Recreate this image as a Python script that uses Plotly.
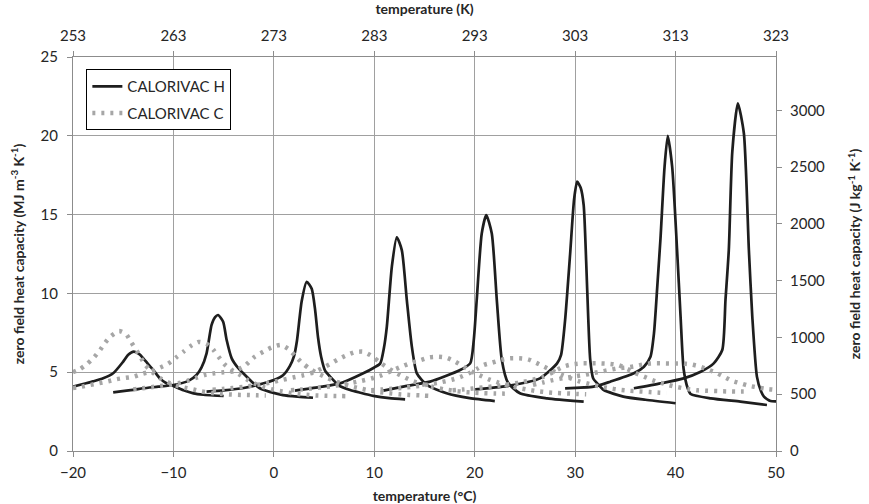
import plotly.graph_objects as go

# ---------------- data: CALORIVAC H (solid) ----------------
h1_x = [-20, -19, -18, -17, -16, -15, -14.5, -13.95, -13.4, -13.0, -12.5, -12.0, -11.35, -10.7, -10.0, -9.0, -8.0, -7.0, -6.0, -5.0]
h1_y = [4.08, 4.25, 4.42, 4.61, 4.93, 5.67, 6.1, 6.3, 6.15, 5.88, 5.5, 5.14, 4.61, 4.3, 4.12, 3.85, 3.66, 3.57, 3.52, 3.49]

h2_x = [-16.0, -14.0, -13.0, -11.5, -10.0, -8.5, -7.7, -7.2, -6.7, -6.2, -5.85, -5.55, -5.05, -4.7, -4.2, -3.6, -3.05, -2.2, -1.4, -0.4, 0.9, 2.4, 3.9]
h2_y = [3.72, 3.88, 3.98, 4.08, 4.19, 4.45, 4.82, 5.3, 6.2, 8.0, 8.5, 8.63, 8.2, 7.04, 5.88, 5.3, 4.93, 4.4, 3.98, 3.75, 3.55, 3.45, 3.38]

h3_x = [-6.7, -5.0, -3.0, -1.0, 0.0, 0.94, 1.6, 2.0, 2.3, 2.77, 3.27, 3.77, 4.1, 4.4, 4.7, 5.1, 5.6, 6.5, 7.6, 8.6, 9.9, 11.5, 13.07]
h3_y = [3.77, 3.85, 4.0, 4.3, 4.5, 4.82, 5.4, 6.0, 7.0, 9.5, 10.74, 10.3, 9.0, 7.2, 6.0, 5.1, 4.72, 4.15, 3.87, 3.7, 3.5, 3.35, 3.28]

h4_x = [2.1, 4.5, 6.6, 8.9, 10.0, 10.6, 10.95, 11.25, 11.75, 12.24, 12.74, 13.24, 13.74, 14.24, 15.24, 17.2, 19.5, 22.0]
h4_y = [3.83, 4.05, 4.29, 4.93, 5.3, 5.56, 6.5, 7.89, 11.7, 13.56, 12.75, 9.58, 6.62, 4.93, 4.19, 3.66, 3.35, 3.17]

h5_x = [10.9, 13.0, 15.56, 18.55, 19.55, 19.9, 20.2, 20.7, 21.15, 21.7, 22.2, 22.7, 23.3, 24.5, 27.2, 30.85]
h5_y = [3.83, 4.1, 4.4, 5.14, 5.56, 7.0, 9.58, 13.8, 14.97, 13.8, 9.58, 5.77, 4.35, 3.66, 3.34, 3.13]

h6_x = [20.05, 23.2, 26.5, 28.2, 28.6, 29.0, 29.5, 29.9, 30.2, 30.55, 30.85, 31.1, 31.3, 31.5, 31.8, 32.2, 32.85, 34.8, 37.0, 40.0]
h6_y = [3.91, 4.12, 4.61, 5.56, 6.1, 8.3, 12.5, 16.0, 17.09, 16.7, 15.6, 12.0, 8.5, 5.8, 4.6, 4.29, 3.87, 3.45, 3.25, 3.03]

h7_x = [29.0, 31.85, 33.5, 35.85, 36.85, 37.5, 37.85, 38.2, 38.5, 38.9, 39.22, 39.66, 40.15, 40.5, 40.8, 41.2, 41.5, 43.5, 46.45, 49.1]
h7_y = [3.98, 4.08, 4.4, 4.93, 5.35, 5.98, 7.47, 10.64, 13.5, 18.0, 19.99, 18.04, 12.75, 8.52, 5.2, 4.0, 3.62, 3.34, 3.13, 2.92]

h8_x = [35.85, 38.5, 40.8, 42.5, 43.8, 44.65, 44.97, 45.3, 45.65, 46.2, 46.8, 47.3, 47.64, 48.1, 48.5, 48.8, 49.45, 50.0]
h8_y = [3.98, 4.29, 4.61, 5.03, 5.56, 6.41, 9.58, 12.75, 19.0, 22.06, 20.16, 12.75, 8.52, 4.72, 3.8, 3.45, 3.17, 3.15]

# ---------------- data: CALORIVAC C (dotted) ----------------
c1_x = [-20, -19.3, -18.6, -17.9, -17.3, -16.8, -16.2, -15.4, -14.7, -14.2, -13.4, -12.8, -12.1, -11.4, -10.5, -9.7, -8.9, -8.0, -7.2, -6.2, -5.2, -4.2, -3.3, -2.4, -1.6, -0.8]
c1_y = [5.0, 5.2, 5.52, 5.95, 6.41, 6.87, 7.3, 7.61, 7.4, 6.9, 6.1, 5.45, 5.0, 4.65, 4.35, 4.15, 4.02, 3.9, 3.78, 3.68, 3.62, 3.58, 3.56, 3.55, 3.53, 3.52]

c2_x = [-20, -19.3, -18.3, -17.4, -16.5, -15.7, -14.8, -13.9, -13.1, -12.3, -11.3, -10.5, -9.7, -9.0, -8.3, -7.5, -6.7, -6.0, -5.5, -4.9, -4.1, -3.3, -2.6, -1.8, -1.0, -0.1, 0.8, 1.7, 2.6, 3.5, 4.4, 5.3, 6.2, 7.2]
c2_y = [4.0, 4.06, 4.19, 4.3, 4.42, 4.55, 4.64, 4.72, 4.9, 5.04, 5.3, 5.55, 5.95, 6.3, 6.65, 6.92, 6.8, 6.4, 5.97, 5.5, 5.1, 4.8, 4.5, 4.25, 4.05, 3.9, 3.78, 3.68, 3.6, 3.55, 3.52, 3.5, 3.49, 3.48]

c3_x = [-14.0, -13.1, -12.2, -11.3, -10.4, -9.5, -8.6, -7.7, -6.9, -5.9, -5.0, -4.05, -3.0, -1.9, -1.05, -0.2, 0.7, 1.5, 2.1, 2.8, 3.5, 4.3, 5.1, 6.0, 6.9, 7.8, 8.7, 9.6, 10.5, 11.5, 12.5, 13.5, 14.5, 15.4]
c3_y = [3.91, 3.98, 4.05, 4.12, 4.2, 4.3, 4.45, 4.65, 4.82, 4.93, 4.99, 5.05, 5.35, 5.98, 6.3, 6.58, 6.73, 6.45, 6.05, 5.6, 5.25, 4.95, 4.7, 4.45, 4.25, 4.08, 3.95, 3.83, 3.74, 3.66, 3.6, 3.56, 3.53, 3.5]

c4_x = [-6.1, -5.1, -4.1, -3.1, -2.1, -1.1, -0.1, 0.9, 1.9, 2.9, 3.9, 4.8, 5.6, 6.4, 7.3, 8.1, 8.9, 9.75, 10.5, 11.3, 12.1, 13.0, 13.9, 14.9, 15.9, 16.9, 17.9, 18.9, 19.9, 20.9, 21.9, 23.0]
c4_y = [3.88, 3.94, 4.0, 4.07, 4.15, 4.25, 4.38, 4.52, 4.66, 4.8, 4.98, 5.25, 5.52, 5.82, 6.09, 6.28, 6.3, 6.03, 5.65, 5.3, 4.98, 4.68, 4.42, 4.22, 4.05, 3.92, 3.82, 3.75, 3.7, 3.67, 3.65, 3.64]

c5_x = [1.7, 2.7, 3.7, 4.7, 5.7, 6.7, 7.7, 8.7, 9.7, 10.7, 11.6, 12.5, 13.7, 14.6, 15.5, 16.3, 17.2, 18.05, 18.9, 19.7, 20.5, 21.4, 22.3, 23.2, 24.2, 25.2, 26.2, 27.2, 28.2, 29.2, 30.2, 31.1]
c5_y = [3.85, 3.9, 3.96, 4.03, 4.1, 4.2, 4.32, 4.45, 4.6, 4.8, 5.05, 5.3, 5.6, 5.77, 5.95, 5.98, 5.92, 5.67, 5.35, 5.05, 4.8, 4.55, 4.35, 4.17, 4.02, 3.9, 3.8, 3.73, 3.68, 3.65, 3.62, 3.6]

c6_x = [9.7, 10.7, 11.7, 12.7, 13.7, 14.7, 15.7, 16.7, 17.7, 18.6, 19.5, 20.2, 20.9, 21.7, 22.6, 23.5, 24.4, 25.3, 26.1, 26.9, 27.7, 28.6, 29.5, 30.4, 31.4, 32.4, 33.4, 34.4, 35.4, 36.4, 37.4, 38.4, 39.1]
c6_y = [3.85, 3.9, 3.95, 4.0, 4.07, 4.15, 4.25, 4.37, 4.52, 4.7, 4.95, 5.2, 5.46, 5.6, 5.77, 5.88, 5.88, 5.82, 5.6, 5.35, 5.1, 4.85, 4.62, 4.42, 4.25, 4.1, 3.98, 3.88, 3.82, 3.78, 3.74, 3.7, 3.68]

c7_x = [17.8, 18.8, 19.8, 20.8, 21.8, 22.8, 23.8, 24.8, 25.8, 26.8, 27.8, 28.8, 29.7, 30.6, 31.5, 32.5, 33.4, 34.3, 35.2, 36.0, 36.85, 37.7, 38.5, 39.3, 40.2, 41.2, 42.2, 43.2, 44.2, 45.2, 46.2, 47.2]
c7_y = [3.85, 3.9, 3.96, 4.03, 4.1, 4.18, 4.27, 4.38, 4.52, 4.7, 5.0, 5.35, 5.5, 5.56, 5.56, 5.56, 5.53, 5.45, 5.2, 4.95, 4.72, 4.5, 4.33, 4.19, 4.05, 3.93, 3.85, 3.82, 3.8, 3.78, 3.77, 3.77]

c8_x = [25.8, 26.8, 27.8, 28.8, 29.8, 30.85, 31.7, 32.5, 33.4, 34.3, 35.2, 36.1, 37.0, 37.9, 38.8, 39.7, 40.6, 41.5, 42.3, 43.1, 44.0, 44.8, 45.6, 46.5, 47.3, 48.3, 49.2, 50.0]
c8_y = [4.2, 4.35, 4.5, 4.62, 4.72, 4.82, 4.93, 5.03, 5.14, 5.25, 5.3, 5.4, 5.52, 5.56, 5.56, 5.55, 5.55, 5.5, 5.38, 5.2, 4.97, 4.72, 4.46, 4.29, 4.14, 4.02, 3.93, 3.88]

h_curves = [(h1_x, h1_y), (h2_x, h2_y), (h3_x, h3_y), (h4_x, h4_y),
            (h5_x, h5_y), (h6_x, h6_y), (h7_x, h7_y), (h8_x, h8_y)]
c_curves = [(c1_x, c1_y), (c2_x, c2_y), (c3_x, c3_y), (c4_x, c4_y),
            (c5_x, c5_y), (c6_x, c6_y), (c7_x, c7_y), (c8_x, c8_y)]

# axis ticks
x_c_ticks = [-20, -10, 0, 10, 20, 30, 40, 50]
x_k_ticks = [253, 263, 273, 283, 293, 303, 313, 323]
y_left_ticks = [0, 5, 10, 15, 20, 25]
y_right_ticks = [0, 500, 1000, 1500, 2000, 2500, 3000]

FONT = "Lato"
TXT = "#262626"
GRID = "#A0A0A0"
AXLINE = "#8C8C8C"
TITLE_SIZE = 14

fig = go.Figure()

for i, (xs, ys) in enumerate(h_curves):
    fig.add_trace(go.Scatter(
        x=xs, y=ys, mode="lines", name="CALORIVAC H",
        legendgroup="H", showlegend=(i == 0),
        line=dict(color="#1E1E1E", width=2.7, shape="spline", smoothing=0.6),
    ))
for i, (xs, ys) in enumerate(c_curves):
    fig.add_trace(go.Scatter(
        x=xs, y=ys, mode="lines", name="CALORIVAC C",
        legendgroup="C", showlegend=(i == 0),
        line=dict(color="#A6A6A6", width=4.5, dash="3px,6px", shape="spline", smoothing=0.6),
    ))
# dummy trace to anchor the secondary axes
fig.add_trace(go.Scatter(x=[None], y=[None], xaxis="x2", yaxis="y2", showlegend=False, hoverinfo="skip"))

fig.update_layout(
    width=869, height=504,
    margin=dict(l=73, r=93, t=57, b=53),
    paper_bgcolor="white", plot_bgcolor="white",
    font=dict(family=FONT, color=TXT, size=15),
    showlegend=True,
    legend=dict(
        x=0.019, y=0.969, xanchor="left", yanchor="top",
        bgcolor="white", bordercolor="#000000", borderwidth=1,
        font=dict(family=FONT, size=15, color=TXT),
        traceorder="grouped", tracegroupgap=4,
    ),
    xaxis=dict(
        range=[-20, 50], tickvals=x_c_ticks, ticks="outside", ticklen=5, tickcolor=AXLINE,
        showgrid=True, gridcolor=GRID, gridwidth=1, zeroline=False, automargin=False,
        showline=True, linecolor=AXLINE, linewidth=1, ticklabelstandoff=3,
        tickfont=dict(family=FONT, size=15, color=TXT),
        title=dict(text="<b>temperature (°C)</b>", font=dict(family=FONT, size=TITLE_SIZE, color=TXT), standoff=11),
    ),
    xaxis2=dict(
        range=[253, 323], tickvals=x_k_ticks, overlaying="x", side="top", anchor="y",
        ticks="outside", ticklen=5, tickcolor=AXLINE, showgrid=False, zeroline=False, automargin=False,
        showline=True, linecolor=AXLINE, linewidth=1, ticklabelstandoff=4,
        tickfont=dict(family=FONT, size=15, color=TXT),
        title=dict(text="<b>temperature (K)</b>", font=dict(family=FONT, size=TITLE_SIZE, color=TXT), standoff=10),
    ),
    yaxis=dict(
        range=[0, 25], tickvals=y_left_ticks, ticks="outside", ticklen=5, tickcolor=AXLINE,
        showgrid=True, gridcolor=GRID, gridwidth=1, zeroline=False, automargin=False,
        showline=True, linecolor=AXLINE, linewidth=1, ticklabelstandoff=6,
        tickfont=dict(family=FONT, size=15, color=TXT),
        title=dict(text="<b>zero field heat capacity (MJ m<sup>-3</sup> K<sup>-1</sup>)</b>",
                   font=dict(family=FONT, size=TITLE_SIZE, color=TXT), standoff=12),
    ),
    yaxis2=dict(
        range=[0, 3470], tickvals=y_right_ticks, overlaying="y", side="right", anchor="x",
        ticks="outside", ticklen=5, tickcolor=AXLINE, showgrid=False, zeroline=False, automargin=False,
        showline=True, linecolor=AXLINE, linewidth=1, ticklabelstandoff=5,
        tickfont=dict(family=FONT, size=15, color=TXT),
        title=dict(text="<b>zero field heat capacity (J kg<sup>-1</sup> K<sup>-1</sup>)</b>",
                   font=dict(family=FONT, size=TITLE_SIZE, color=TXT), standoff=26),
    ),
)

fig.write_html("out.html")
